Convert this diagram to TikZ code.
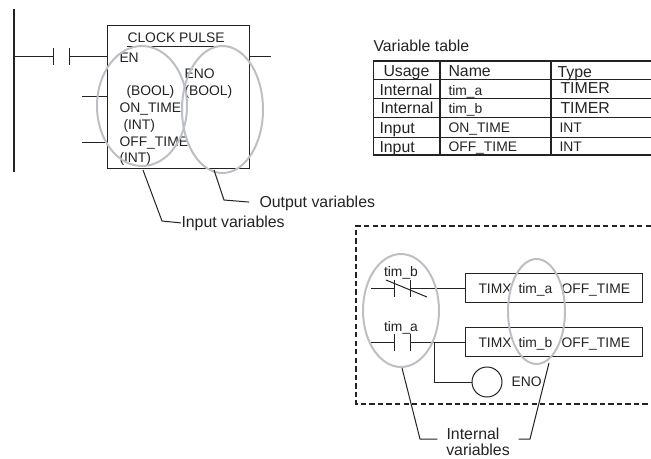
\documentclass[tikz,border=0pt]{standalone}
\usepackage{fontspec}
\setmainfont{Liberation Sans}
\usetikzlibrary{shapes.geometric}
\definecolor{ringgray}{RGB}{188,191,196}
\definecolor{inkgray}{RGB}{35,35,35}
\tikzset{
  small/.style={inner sep=0pt, anchor=base west, text=inkgray, font=\fontsize{10.4pt}{12pt}\selectfont},
  big/.style={inner sep=0pt, anchor=base west, text=inkgray, font=\fontsize{11.9pt}{14pt}\selectfont},
  ring/.style={draw=ringgray, line width=1.5pt, ellipse, inner sep=0pt},
  timerbox/.style={draw=inkgray, rectangle, inner sep=0pt, minimum width=132.75pt, minimum height=22pt, anchor=west},
  coil/.style={draw=inkgray, circle, inner sep=0pt, minimum size=22.5pt}
}
\newcommand{\drawContact}[3]{
  \coordinate (#1L) at (#2,#3);
  \coordinate (#1R) at (#2+16,#3);
  \draw (#1L) ++(0,-8.5) -- ++(0,17);
  \draw (#1R) ++(0,-8.5) -- ++(0,17);
}

\begin{document}
\begin{tikzpicture}[x=0.75pt, y=-0.75pt, line width=0.75pt, draw=inkgray]
  \useasboundingbox (0,0) rectangle (651,458);

  % Function block
  \coordinate (railTop) at (14,9);
  \coordinate (railBottom) at (14,172);
  \coordinate (railEN) at (14,56);
  \node[draw=inkgray, rectangle, inner sep=0pt, minimum width=106.5pt, minimum height=107.25pt, anchor=north west] (block) at (107,25) {};
  \coordinate (blockEN) at (107,56);
  \coordinate (blockENO) at (249,56);
  \coordinate (stubENO) at (271,56);
  \coordinate (onStub) at (82,96);
  \coordinate (onPin) at (107,96);
  \coordinate (offStub) at (82,142);
  \coordinate (offPin) at (107,142);
  \draw[line width=0.9pt] (railTop) -- (railBottom);
  \drawContact{enable}{53}{56}
  \draw (railEN) -- (enableL);
  \draw (enableR) -- (blockEN);
  \draw (blockENO) -- (stubENO);
  \draw (onStub) -- (onPin);
  \draw (offStub) -- (offPin);

  \node[small] (title) at (127,42) {CLOCK PULSE};
  \coordinate (titleLeft) at (127,46);
  \coordinate (titleRight) at (231,46);
  \draw (titleLeft) -- (titleRight);
  \node[small] (en) at (119,62) {EN};
  \node[small] (eno) at (184,78) {ENO};
  \node[small] (enBool) at (126,95) {(BOOL)};
  \node[small] (enoBool) at (184,95) {(BOOL)};
  \node[small] (onTime) at (119,112) {ON\_TIME};
  \node[small] (onInt) at (123,129) {(INT)};
  \node[small] (offTime) at (119,146) {OFF\_TIME};
  \node[small] (offInt) at (119,162) {(INT)};

  \node[ring, minimum width=67.5pt, minimum height=90pt] (inRing) at (142,106) {};
  \node[ring, minimum width=60.75pt, minimum height=95.25pt] (outRing) at (222.5,109.5) {};

  % Leaders
  \node[big] (outLabel) at (259,207) {Output variables};
  \node[big] (inLabel) at (181,227) {Input variables};
  \coordinate (inLead) at (143,170);
  \coordinate (inBend) at (162,221);
  \coordinate (outLead) at (214,170);
  \coordinate (outBend) at (224,200);
  \draw (inLead) -- (inBend) -- (inLabel.west);
  \draw[shorten >=7.5pt] (outLead) -- (outBend) -- (outLabel.west);

  % Variable table
  \node[big] (tableTitle) at (373,51) {Variable table};
  \coordinate (tableNE) at (651,61);
  \coordinate (tableNW) at (373.5,61);
  \coordinate (tableSW) at (373.5,155);
  \coordinate (tableSE) at (651,155);
  \draw[line width=1pt] (tableNE) -- (tableNW) -- (tableSW) -- (tableSE);
  \coordinate (nameTop) at (440,61);
  \coordinate (nameBottom) at (440,155);
  \coordinate (typeTop) at (551,61);
  \coordinate (typeBottom) at (551,155);
  \draw[line width=1pt] (nameTop) -- (nameBottom);
  \draw[line width=1pt] (typeTop) -- (typeBottom);
  \draw (373.5,79) coordinate (rowA) -- (651,79) coordinate (rowAEnd);
  \draw (373.5,98) coordinate (rowB) -- (651,98) coordinate (rowBEnd);
  \draw (373.5,117) coordinate (rowC) -- (651,117) coordinate (rowCEnd);
  \draw (373.5,137) coordinate (rowD) -- (651,137) coordinate (rowDEnd);

  \node[big] (usageHead) at (383,76) {Usage};
  \node[big] (nameHead) at (448,76) {Name};
  \node[big] (typeHead) at (557,77) {Type};
  \node[big] (usageA) at (379,95) {Internal};
  \node[small] (nameA) at (448,95) {tim\_a};
  \node[big] (typeA) at (560,93) {TIMER};
  \node[big] (usageB) at (380,113) {Internal};
  \node[small] (nameB) at (448,113) {tim\_b};
  \node[big] (typeB) at (560,113) {TIMER};
  \node[big] (usageC) at (379,133) {Input};
  \node[small] (nameC) at (448,132) {ON\_TIME};
  \node[small] (typeC) at (559,132) {INT};
  \node[big] (usageD) at (379,152) {Input};
  \node[small] (nameD) at (448,151) {OFF\_TIME};
  \node[small] (typeD) at (559,151) {INT};

  % Dashed frame
  \coordinate (frameTR) at (651,226);
  \coordinate (frameTL) at (356,226);
  \coordinate (frameBL) at (356,404);
  \coordinate (frameBR) at (651,404);
  \draw[line width=1.1pt, dash pattern=on 4pt off 2.4pt] (frameTR) -- (frameTL) -- (frameBL) -- (frameBR);

  % Ladder
  \node[timerbox] (timerA) at (465,288) {};
  \node[timerbox] (timerB) at (465,342) {};
  \coordinate (startA) at (371,288);
  \coordinate (startB) at (371,342);
  \coordinate (branch) at (434,342);
  \coordinate (branchLow) at (434,382);
  \drawContact{contactA}{394}{288}
  \drawContact{contactB}{394}{342}
  \coordinate (slashStart) at (386,280);
  \coordinate (slashEnd) at (427,297);
  \draw (slashStart) -- (slashEnd);
  \draw (startA) -- (contactAL);
  \draw (contactAR) -- (timerA.west);
  \draw (startB) -- (contactBL);
  \draw (contactBR) -- (timerB.west);
  \node[coil] (coil) at (487,382) {};
  \draw (branch) -- (branchLow) -- (coil.west);

  \node[small, anchor=base] (tagB) at (401,276) {tim\_b};
  \node[small, anchor=base] (tagA) at (401,331) {tim\_a};
  \node[small] (timxA) at (478,293) {TIMX};
  \node[small] (varA) at (518,293) {tim\_a};
  \node[small] (offA) at (561,293) {OFF\_TIME};
  \node[small] (timxB) at (478,347) {TIMX};
  \node[small] (varB) at (518,347) {tim\_b};
  \node[small] (offB) at (561,347) {OFF\_TIME};
  \node[small] (enoOut) at (511,386) {ENO};

  \node[ring, minimum width=57pt, minimum height=84.75pt] (contactRing) at (401,310.5) {};
  \node[ring, minimum width=42.75pt, minimum height=78.75pt] (timerRing) at (536.5,311.5) {};

  % Internal leaders
  \node[big, anchor=base] (internalLabel) at (473,439) {Internal};
  \node[big, anchor=base] (variablesLabel) at (478,455) {variables};
  \coordinate (leftLead) at (402,368);
  \coordinate (leftBend) at (420,439);
  \coordinate (rightLead) at (549,363);
  \coordinate (rightBend) at (530,439);
  \draw[shorten >=6.5pt] (leftLead) -- (leftBend) -- (internalLabel.base west);
  \draw[shorten >=14pt] (rightLead) -- (rightBend) -- (internalLabel.base east);
\end{tikzpicture}
\end{document}
